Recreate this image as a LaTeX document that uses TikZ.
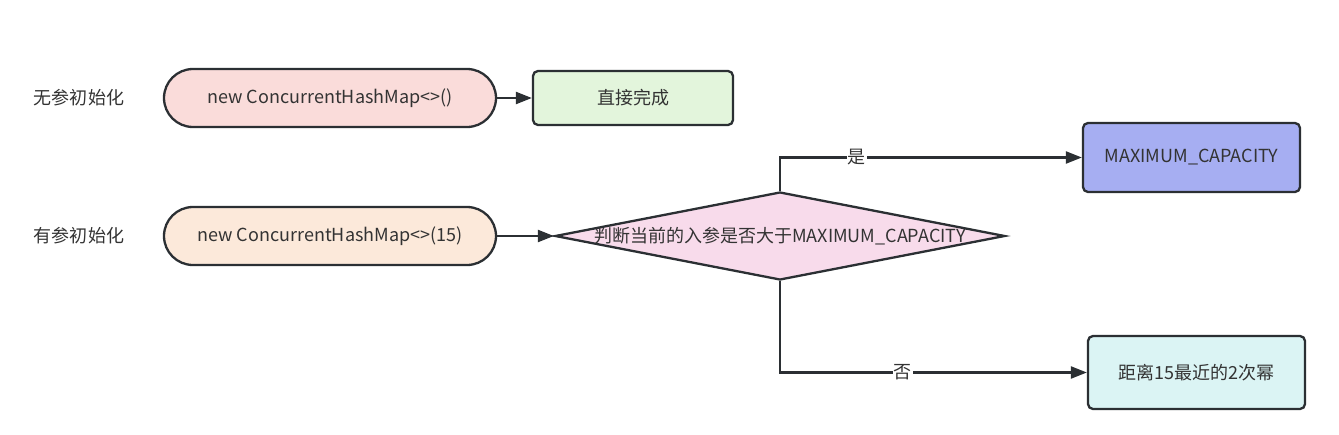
\documentclass[tikz,border=0pt]{standalone}
\usepackage{fontspec}
\setmainfont{Noto Sans CJK SC}
\usetikzlibrary{arrows.meta,shapes.geometric}
\definecolor{strokec}{HTML}{2B2F33}
\definecolor{textc}{HTML}{333333}
\definecolor{pinkf}{HTML}{FADCDA}
\definecolor{peachf}{HTML}{FCE9DA}
\definecolor{greenf}{HTML}{E3F5DC}
\definecolor{bluef}{HTML}{A6AEF2}
\definecolor{cyanf}{HTML}{DBF4F4}
\definecolor{diaf}{HTML}{F8DBEB}
\tikzset{
  x=1pt, y=-1pt,
  every node/.style={font=\fontsize{18}{21}\selectfont, text=textc},
  pill/.style={draw=strokec, line width=2.3pt, rounded corners=29pt, minimum width=332pt, minimum height=58pt, inner sep=0pt},
  boxn/.style={draw=strokec, line width=2.3pt, rounded corners=5pt, inner sep=0pt},
  dia/.style={draw=strokec, line width=2.3pt, diamond, fill=diaf, minimum width=450pt, minimum height=88pt, inner sep=0pt, aspect=5.11},
  conn/.style={draw=strokec, line width=2.3pt, -{Triangle[length=16pt,width=12pt]}},
  elabel/.style={fill=white, inner sep=1pt},
  side/.style={inner sep=0pt}
}
\begin{document}
\begin{tikzpicture}
\useasboundingbox (0,0) rectangle (1339,434);
\node[side] (l1) at (79,98) {无参初始化};
\node[side] (l2) at (79,236) {有参初始化};
\node[pill, fill=pinkf] (n1) at (330,98) {new ConcurrentHashMap<>()};
\node[boxn, fill=greenf, minimum width=200pt, minimum height=54pt] (done) at (633,98) {直接完成};
\node[pill, fill=peachf] (n2) at (330,236) {new ConcurrentHashMap<>(15)};
\node[dia, label={center:判断当前的入参是否大于MAXIMUM\_CAPACITY}] (d) at (780,236) {};
\node[boxn, fill=bluef, minimum width=217pt, minimum height=69pt] (max) at (1191.5,157.5) {MAXIMUM\_CAPACITY};
\node[boxn, fill=cyanf, minimum width=217pt, minimum height=73pt] (dist) at (1196.5,372.5) {距离15最近的2次幂};
\draw[conn] (n1) -- (done);
\draw[conn] (n2) -- (d.west);
\draw[conn] (d.north) |- node[elabel, pos=0.627] {是} (max.west);
\draw[conn] (d.south) |- node[elabel, pos=0.7] {否} (dist.west);
\end{tikzpicture}
\end{document}
